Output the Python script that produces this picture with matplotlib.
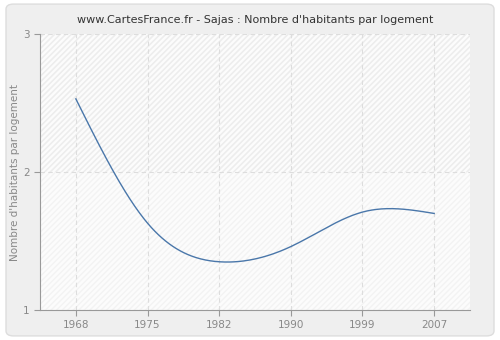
import numpy as np
import matplotlib
matplotlib.use("Agg")
import matplotlib.pyplot as plt
from matplotlib.patches import FancyBboxPatch, Rectangle

years = [1968, 1975, 1982, 1990, 1999, 2007]
values = [2.53, 1.63, 1.35, 1.46, 1.71, 1.70]
yticks = [1, 2, 3]
title = "www.CartesFrance.fr - Sajas : Nombre d'habitants par logement"
ylabel = "Nombre d'habitants par logement"


def natural_spline(x, y, n=300):
    x = np.asarray(x, float)
    y = np.asarray(y, float)
    k = len(x)
    h = np.diff(x)
    A = np.zeros((k, k))
    b = np.zeros(k)
    A[0, 0] = 1
    A[-1, -1] = 1
    for i in range(1, k - 1):
        A[i, i - 1] = h[i - 1]
        A[i, i] = 2 * (h[i - 1] + h[i])
        A[i, i + 1] = h[i]
        b[i] = 6 * ((y[i + 1] - y[i]) / h[i] - (y[i] - y[i - 1]) / h[i - 1])
    M = np.linalg.solve(A, b)
    xs = np.linspace(x[0], x[-1], n)
    ys = np.empty_like(xs)
    for j, xv in enumerate(xs):
        i = min(np.searchsorted(x, xv, side="right") - 1, k - 2)
        t1 = x[i + 1] - xv
        t0 = xv - x[i]
        ys[j] = (M[i] * t1 ** 3 + M[i + 1] * t0 ** 3) / (6 * h[i]) \
            + (y[i] / h[i] - M[i] * h[i] / 6) * t1 \
            + (y[i + 1] / h[i] - M[i + 1] * h[i] / 6) * t0
    return xs, ys


fig = plt.figure(figsize=(5, 3.4), dpi=100)
fig.patch.set_facecolor("white")
bg = FancyBboxPatch((0.012, 0.012), 0.976, 0.976, boxstyle="round,pad=0,rounding_size=0.015",
                    transform=fig.transFigure, facecolor="#efefef", edgecolor="#dddddd",
                    linewidth=1.0, zorder=-10)
fig.patches.append(bg)

ax = fig.add_axes([0.08, 0.088, 0.86, 0.812])
ax.set_facecolor("#fcfcfc")
pos = np.arange(len(years))
ax.set_xlim(-0.5, len(years) - 0.5)
ax.set_ylim(1, 3)

# hatched background
ax.add_patch(Rectangle((0, 0), 1, 1, transform=ax.transAxes, facecolor="none",
                       edgecolor="#f3f3f3", hatch="//////", linewidth=0, zorder=0))
ax.add_patch(Rectangle((0, 0.5), 1, 0.5, transform=ax.transAxes, facecolor="none",
                       edgecolor="#ededed", hatch="//////", linewidth=0, zorder=0))

xs, ys = natural_spline(pos, values)
ax.plot(xs, ys, color="#4a77aa", linewidth=1.0, zorder=3)

ax.set_xticks(pos)
ax.set_yticks(yticks)
ax.set_xticklabels([str(t) for t in years])
ax.grid(True, color="#dddddd", linestyle=(0, (4, 3)), linewidth=0.8)
ax.set_axisbelow(True)
for s in ["top", "right"]:
    ax.spines[s].set_visible(False)
for s in ["left", "bottom"]:
    ax.spines[s].set_color("#999999")
ax.tick_params(colors="#999999", labelcolor="#888888", labelsize=7.5, length=4, width=0.8)
ax.set_ylabel(ylabel, color="#888888", fontsize=7.5, labelpad=2)
ax.set_title(title, fontsize=8, color="#333333", pad=8)

fig.savefig("out.png", dpi=100, facecolor=fig.get_facecolor())
